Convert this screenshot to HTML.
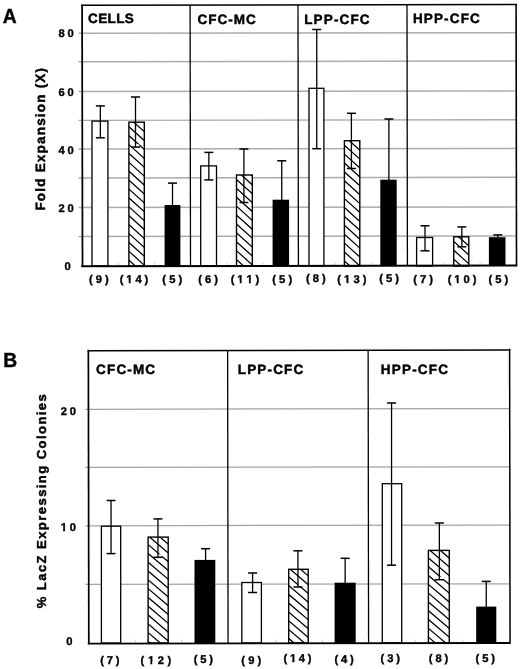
<!DOCTYPE html>
<html><head><meta charset="utf-8"><title>Figure</title>
<style>
html,body{margin:0;padding:0;background:#fff;}
body{width:520px;height:669px;overflow:hidden;font-family:"Liberation Sans",sans-serif;}
svg{display:block;will-change:transform;}
text{text-rendering:geometricPrecision;}
</style></head><body>
<svg width="520" height="669" viewBox="0 0 520 669">
<defs>
<pattern id="hA" patternUnits="userSpaceOnUse" width="7" height="7" x="128.6" y="124">
<rect width="7" height="7" fill="#fff"/>
<path d="M-1,-1 L8,8 M-1,6 L1,8 M6,-1 L8,1" stroke="#000" stroke-width="1.0" fill="none"/>
</pattern>
<pattern id="hB" patternUnits="userSpaceOnUse" width="7.5" height="7.5" x="148" y="538">
<rect width="7.5" height="7.5" fill="#fff"/>
<path d="M-1,-1 L8.5,8.5 M-1,6.5 L1,8.5 M6.5,-1 L8.5,1" stroke="#000" stroke-width="1.0" fill="none"/>
</pattern>
</defs>
<rect width="520" height="669" fill="#fff"/>
<line x1="78.50" y1="33.34" x2="516.30" y2="32.64" stroke="#ababab" stroke-width="1.45" />
<line x1="78.50" y1="61.69" x2="516.30" y2="60.99" stroke="#ababab" stroke-width="1.45" />
<line x1="78.50" y1="91.59" x2="516.30" y2="90.89" stroke="#ababab" stroke-width="1.45" />
<line x1="78.50" y1="120.39" x2="516.30" y2="119.69" stroke="#ababab" stroke-width="1.45" />
<line x1="78.50" y1="149.09" x2="516.30" y2="148.39" stroke="#ababab" stroke-width="1.45" />
<line x1="78.50" y1="177.99" x2="516.30" y2="177.29" stroke="#ababab" stroke-width="1.45" />
<line x1="78.50" y1="207.59" x2="516.30" y2="206.89" stroke="#ababab" stroke-width="1.45" />
<line x1="78.50" y1="236.59" x2="516.30" y2="235.89" stroke="#ababab" stroke-width="1.45" />
<line x1="118.19" y1="262.50" x2="118.19" y2="266.00" stroke="#c4c4c4" stroke-width="0.8" />
<line x1="154.38" y1="262.50" x2="154.38" y2="266.00" stroke="#c4c4c4" stroke-width="0.8" />
<line x1="226.77" y1="262.50" x2="226.77" y2="266.00" stroke="#c4c4c4" stroke-width="0.8" />
<line x1="262.96" y1="262.50" x2="262.96" y2="266.00" stroke="#c4c4c4" stroke-width="0.8" />
<line x1="335.34" y1="262.50" x2="335.34" y2="266.00" stroke="#c4c4c4" stroke-width="0.8" />
<line x1="371.53" y1="262.50" x2="371.53" y2="266.00" stroke="#c4c4c4" stroke-width="0.8" />
<line x1="443.92" y1="262.50" x2="443.92" y2="266.00" stroke="#c4c4c4" stroke-width="0.8" />
<line x1="480.11" y1="262.50" x2="480.11" y2="266.00" stroke="#c4c4c4" stroke-width="0.8" />
<rect x="92.00" y="121.10" width="15.90" height="144.90" fill="#fff" stroke="#000" stroke-width="1.3"/>
<line x1="100.35" y1="105.90" x2="100.35" y2="137.80" stroke="#000" stroke-width="1.3" />
<line x1="95.85" y1="105.90" x2="104.85" y2="105.90" stroke="#000" stroke-width="1.5" />
<line x1="95.85" y1="137.80" x2="104.85" y2="137.80" stroke="#000" stroke-width="1.5" />
<clipPath id="c1"><rect x="128.90" y="122.20" width="15.40" height="143.80"/></clipPath>
<rect x="128.90" y="122.20" width="15.40" height="143.80" fill="#fff"/>
<path d="M127.90,99.10L145.30,114.76M127.90,108.00L145.30,123.66M127.90,116.90L145.30,132.56M127.90,125.80L145.30,141.46M127.90,134.70L145.30,150.36M127.90,143.60L145.30,159.26M127.90,152.50L145.30,168.16M127.90,161.40L145.30,177.06M127.90,170.30L145.30,185.96M127.90,179.20L145.30,194.86M127.90,188.10L145.30,203.76M127.90,197.00L145.30,212.66M127.90,205.90L145.30,221.56M127.90,214.80L145.30,230.46M127.90,223.70L145.30,239.36M127.90,232.60L145.30,248.26M127.90,241.50L145.30,257.16M127.90,250.40L145.30,266.06M127.90,259.30L145.30,274.96" stroke="#000" stroke-width="1.25" fill="none" clip-path="url(#c1)"/>
<rect x="128.90" y="122.20" width="15.40" height="143.80" fill="none" stroke="#000" stroke-width="1.4"/>
<rect x="136.00" y="144.30" width="3.2" height="2.3" fill="#fff"/>
<line x1="135.50" y1="97.00" x2="135.50" y2="147.10" stroke="#000" stroke-width="1.3" />
<line x1="131.00" y1="97.00" x2="140.00" y2="97.00" stroke="#000" stroke-width="1.5" />
<line x1="131.00" y1="147.10" x2="140.00" y2="147.10" stroke="#000" stroke-width="1.5" />
<rect x="164.60" y="205.00" width="15.80" height="61.00" fill="#000"/>
<line x1="172.50" y1="183.10" x2="172.50" y2="205.30" stroke="#000" stroke-width="1.3" />
<line x1="168.00" y1="183.10" x2="177.00" y2="183.10" stroke="#000" stroke-width="1.5" />
<rect x="200.70" y="165.90" width="15.80" height="100.10" fill="#fff" stroke="#000" stroke-width="1.3"/>
<line x1="208.85" y1="152.40" x2="208.85" y2="179.90" stroke="#000" stroke-width="1.3" />
<line x1="204.35" y1="152.40" x2="213.35" y2="152.40" stroke="#000" stroke-width="1.5" />
<line x1="204.35" y1="179.90" x2="213.35" y2="179.90" stroke="#000" stroke-width="1.5" />
<clipPath id="c2"><rect x="236.50" y="175.00" width="15.80" height="91.00"/></clipPath>
<rect x="236.50" y="175.00" width="15.80" height="91.00" fill="#fff"/>
<path d="M235.50,151.90L253.30,167.92M235.50,160.80L253.30,176.82M235.50,169.70L253.30,185.72M235.50,178.60L253.30,194.62M235.50,187.50L253.30,203.52M235.50,196.40L253.30,212.42M235.50,205.30L253.30,221.32M235.50,214.20L253.30,230.22M235.50,223.10L253.30,239.12M235.50,232.00L253.30,248.02M235.50,240.90L253.30,256.92M235.50,249.80L253.30,265.82M235.50,258.70L253.30,274.72" stroke="#000" stroke-width="1.25" fill="none" clip-path="url(#c2)"/>
<rect x="236.50" y="175.00" width="15.80" height="91.00" fill="none" stroke="#000" stroke-width="1.4"/>
<rect x="244.40" y="199.70" width="3.2" height="2.3" fill="#fff"/>
<line x1="243.90" y1="149.00" x2="243.90" y2="202.50" stroke="#000" stroke-width="1.3" />
<line x1="239.40" y1="149.00" x2="248.40" y2="149.00" stroke="#000" stroke-width="1.5" />
<line x1="239.40" y1="202.50" x2="248.40" y2="202.50" stroke="#000" stroke-width="1.5" />
<rect x="272.60" y="199.70" width="16.50" height="66.30" fill="#000"/>
<line x1="281.75" y1="160.80" x2="281.75" y2="200.00" stroke="#000" stroke-width="1.3" />
<line x1="277.25" y1="160.80" x2="286.25" y2="160.80" stroke="#000" stroke-width="1.5" />
<rect x="309.00" y="88.30" width="14.90" height="177.70" fill="#fff" stroke="#000" stroke-width="1.3"/>
<line x1="316.75" y1="29.50" x2="316.75" y2="148.70" stroke="#000" stroke-width="1.3" />
<line x1="312.25" y1="29.50" x2="321.25" y2="29.50" stroke="#000" stroke-width="1.5" />
<line x1="312.25" y1="148.70" x2="321.25" y2="148.70" stroke="#000" stroke-width="1.5" />
<clipPath id="c3"><rect x="344.40" y="140.70" width="15.40" height="125.30"/></clipPath>
<rect x="344.40" y="140.70" width="15.40" height="125.30" fill="#fff"/>
<path d="M343.40,117.60L360.80,133.26M343.40,126.50L360.80,142.16M343.40,135.40L360.80,151.06M343.40,144.30L360.80,159.96M343.40,153.20L360.80,168.86M343.40,162.10L360.80,177.76M343.40,171.00L360.80,186.66M343.40,179.90L360.80,195.56M343.40,188.80L360.80,204.46M343.40,197.70L360.80,213.36M343.40,206.60L360.80,222.26M343.40,215.50L360.80,231.16M343.40,224.40L360.80,240.06M343.40,233.30L360.80,248.96M343.40,242.20L360.80,257.86M343.40,251.10L360.80,266.76M343.40,260.00L360.80,275.66" stroke="#000" stroke-width="1.25" fill="none" clip-path="url(#c3)"/>
<rect x="344.40" y="140.70" width="15.40" height="125.30" fill="none" stroke="#000" stroke-width="1.4"/>
<rect x="351.90" y="165.70" width="3.2" height="2.3" fill="#fff"/>
<line x1="351.40" y1="113.30" x2="351.40" y2="168.50" stroke="#000" stroke-width="1.3" />
<line x1="346.90" y1="113.30" x2="355.90" y2="113.30" stroke="#000" stroke-width="1.5" />
<line x1="346.90" y1="168.50" x2="355.90" y2="168.50" stroke="#000" stroke-width="1.5" />
<rect x="380.30" y="179.70" width="16.40" height="86.30" fill="#000"/>
<line x1="388.90" y1="119.00" x2="388.90" y2="180.00" stroke="#000" stroke-width="1.3" />
<line x1="384.40" y1="119.00" x2="393.40" y2="119.00" stroke="#000" stroke-width="1.5" />
<rect x="416.60" y="237.50" width="16.00" height="28.50" fill="#fff" stroke="#000" stroke-width="1.3"/>
<line x1="425.00" y1="225.80" x2="425.00" y2="250.80" stroke="#000" stroke-width="1.3" />
<line x1="420.50" y1="225.80" x2="429.50" y2="225.80" stroke="#000" stroke-width="1.5" />
<line x1="420.50" y1="250.80" x2="429.50" y2="250.80" stroke="#000" stroke-width="1.5" />
<clipPath id="c4"><rect x="453.70" y="236.80" width="15.10" height="29.20"/></clipPath>
<rect x="453.70" y="236.80" width="15.10" height="29.20" fill="#fff"/>
<path d="M452.70,213.70L469.80,229.09M452.70,222.60L469.80,237.99M452.70,231.50L469.80,246.89M452.70,240.40L469.80,255.79M452.70,249.30L469.80,264.69M452.70,258.20L469.80,273.59" stroke="#000" stroke-width="1.25" fill="none" clip-path="url(#c4)"/>
<rect x="453.70" y="236.80" width="15.10" height="29.20" fill="none" stroke="#000" stroke-width="1.4"/>
<rect x="462.35" y="244.00" width="3.2" height="2.3" fill="#fff"/>
<line x1="461.85" y1="226.90" x2="461.85" y2="246.80" stroke="#000" stroke-width="1.3" />
<line x1="457.35" y1="226.90" x2="466.35" y2="226.90" stroke="#000" stroke-width="1.5" />
<line x1="457.35" y1="246.80" x2="466.35" y2="246.80" stroke="#000" stroke-width="1.5" />
<rect x="488.90" y="237.20" width="16.60" height="28.80" fill="#000"/>
<line x1="497.80" y1="234.90" x2="497.80" y2="237.50" stroke="#000" stroke-width="1.3" />
<line x1="493.30" y1="234.90" x2="502.30" y2="234.90" stroke="#000" stroke-width="1.5" />
<line x1="190.09" y1="5.00" x2="190.51" y2="266.00" stroke="#000" stroke-width="1.3" />
<line x1="297.99" y1="5.00" x2="298.41" y2="266.00" stroke="#000" stroke-width="1.3" />
<line x1="406.99" y1="5.00" x2="407.41" y2="266.00" stroke="#000" stroke-width="1.3" />
<line x1="82.09" y1="4.70" x2="82.51" y2="267.00" stroke="#000" stroke-width="1.75" />
<line x1="516.09" y1="4.10" x2="516.51" y2="266.30" stroke="#000" stroke-width="1.6" />
<line x1="81.20" y1="5.25" x2="517.10" y2="4.55" stroke="#000" stroke-width="1.6" />
<line x1="81.20" y1="266.22" x2="517.10" y2="265.52" stroke="#000" stroke-width="2.0" />
<text x="88.00" y="23.10" font-size="13.5" font-family="Liberation Sans, sans-serif" font-weight="bold" letter-spacing="0.4" text-anchor="start" stroke="#000" stroke-width="0.45" >CELLS</text>
<text x="197.40" y="24.20" font-size="13.5" font-family="Liberation Sans, sans-serif" font-weight="bold" letter-spacing="1.0" text-anchor="start" stroke="#000" stroke-width="0.45" >CFC-MC</text>
<text x="304.20" y="24.20" font-size="13.5" font-family="Liberation Sans, sans-serif" font-weight="bold" letter-spacing="1.15" text-anchor="start" stroke="#000" stroke-width="0.45" >LPP-CFC</text>
<text x="412.90" y="23.10" font-size="13.5" font-family="Liberation Sans, sans-serif" font-weight="bold" letter-spacing="1.15" text-anchor="start" stroke="#000" stroke-width="0.45" >HPP-CFC</text>
<text x="58.54" y="37.30" font-size="11.2" font-family="Liberation Sans, sans-serif" font-weight="bold" letter-spacing="2.80" stroke="#000" stroke-width="0.35" style="font-kerning:none">80</text>
<text x="58.54" y="96.20" font-size="11.2" font-family="Liberation Sans, sans-serif" font-weight="bold" letter-spacing="2.80" stroke="#000" stroke-width="0.35" style="font-kerning:none">60</text>
<text x="58.54" y="154.10" font-size="11.2" font-family="Liberation Sans, sans-serif" font-weight="bold" letter-spacing="2.80" stroke="#000" stroke-width="0.35" style="font-kerning:none">40</text>
<text x="58.54" y="211.90" font-size="11.2" font-family="Liberation Sans, sans-serif" font-weight="bold" letter-spacing="2.80" stroke="#000" stroke-width="0.35" style="font-kerning:none">20</text>
<text x="64.57" y="269.90" font-size="11.2" font-family="Liberation Sans, sans-serif" font-weight="bold" letter-spacing="2.80" stroke="#000" stroke-width="0.35" style="font-kerning:none">0</text>
<text x="88.96" y="282.80" font-size="11.2" font-family="Liberation Sans, sans-serif" font-weight="bold" letter-spacing="3.10" stroke="#000" stroke-width="0.35" style="font-kerning:none">(9)</text>
<text x="119.69" y="282.80" font-size="11.2" font-family="Liberation Sans, sans-serif" font-weight="bold" letter-spacing="2.90" stroke="#000" stroke-width="0.35" style="font-kerning:none">(14)</text>
<rect x="126.13" y="280.81" width="2.61" height="3.24" fill="#fff"/>
<rect x="130.67" y="280.81" width="2.47" height="3.24" fill="#fff"/>
<text x="162.36" y="282.80" font-size="11.2" font-family="Liberation Sans, sans-serif" font-weight="bold" letter-spacing="3.10" stroke="#000" stroke-width="0.35" style="font-kerning:none">(5)</text>
<text x="198.26" y="282.80" font-size="11.2" font-family="Liberation Sans, sans-serif" font-weight="bold" letter-spacing="3.00" stroke="#000" stroke-width="0.35" style="font-kerning:none">(6)</text>
<text x="230.69" y="282.80" font-size="11.2" font-family="Liberation Sans, sans-serif" font-weight="bold" letter-spacing="2.90" stroke="#000" stroke-width="0.35" style="font-kerning:none">(11)</text>
<rect x="237.13" y="280.81" width="2.61" height="3.24" fill="#fff"/>
<rect x="241.67" y="280.81" width="2.47" height="3.24" fill="#fff"/>
<rect x="246.26" y="280.81" width="2.61" height="3.24" fill="#fff"/>
<rect x="250.80" y="280.81" width="2.47" height="3.24" fill="#fff"/>
<text x="272.26" y="282.80" font-size="11.2" font-family="Liberation Sans, sans-serif" font-weight="bold" letter-spacing="3.10" stroke="#000" stroke-width="0.35" style="font-kerning:none">(5)</text>
<text x="305.96" y="281.50" font-size="11.2" font-family="Liberation Sans, sans-serif" font-weight="bold" letter-spacing="3.10" stroke="#000" stroke-width="0.35" style="font-kerning:none">(8)</text>
<text x="337.29" y="283.30" font-size="11.2" font-family="Liberation Sans, sans-serif" font-weight="bold" letter-spacing="3.10" stroke="#000" stroke-width="0.35" style="font-kerning:none">(13)</text>
<rect x="343.93" y="281.31" width="2.61" height="3.24" fill="#fff"/>
<rect x="348.47" y="281.31" width="2.47" height="3.24" fill="#fff"/>
<text x="379.16" y="281.50" font-size="11.2" font-family="Liberation Sans, sans-serif" font-weight="bold" letter-spacing="3.10" stroke="#000" stroke-width="0.35" style="font-kerning:none">(5)</text>
<text x="413.36" y="282.80" font-size="11.2" font-family="Liberation Sans, sans-serif" font-weight="bold" letter-spacing="3.00" stroke="#000" stroke-width="0.35" style="font-kerning:none">(7)</text>
<text x="447.64" y="282.80" font-size="11.2" font-family="Liberation Sans, sans-serif" font-weight="bold" letter-spacing="3.00" stroke="#000" stroke-width="0.35" style="font-kerning:none">(10)</text>
<rect x="454.18" y="280.81" width="2.61" height="3.24" fill="#fff"/>
<rect x="458.72" y="280.81" width="2.47" height="3.24" fill="#fff"/>
<text x="488.56" y="282.80" font-size="11.2" font-family="Liberation Sans, sans-serif" font-weight="bold" letter-spacing="3.00" stroke="#000" stroke-width="0.35" style="font-kerning:none">(5)</text>
<text x="45.40" y="210.60" font-size="13.5" font-family="Liberation Sans, sans-serif" font-weight="bold" letter-spacing="1.2" text-anchor="start" transform="rotate(-90 45.40 210.60)" stroke="#000" stroke-width="0.45" >Fold Expansion (X)</text>
<text transform="translate(2.7,23.1) scale(0.95,1)" font-size="20.3" font-family="Liberation Sans, sans-serif" font-weight="bold" stroke="#000" stroke-width="0.4">A</text>
<line x1="85.20" y1="409.27" x2="509.70" y2="408.59" stroke="#a4a4a4" stroke-width="1.25" />
<line x1="85.20" y1="467.47" x2="509.70" y2="466.79" stroke="#a4a4a4" stroke-width="1.25" />
<line x1="85.20" y1="525.77" x2="509.70" y2="525.09" stroke="#a4a4a4" stroke-width="1.25" />
<line x1="85.20" y1="584.47" x2="509.70" y2="583.79" stroke="#a4a4a4" stroke-width="1.25" />
<line x1="135.20" y1="639.50" x2="135.20" y2="643.00" stroke="#c4c4c4" stroke-width="0.8" />
<line x1="181.60" y1="639.50" x2="181.60" y2="643.00" stroke="#c4c4c4" stroke-width="0.8" />
<line x1="276.20" y1="639.50" x2="276.20" y2="643.00" stroke="#c4c4c4" stroke-width="0.8" />
<line x1="322.50" y1="639.50" x2="322.50" y2="643.00" stroke="#c4c4c4" stroke-width="0.8" />
<line x1="415.30" y1="639.50" x2="415.30" y2="643.00" stroke="#c4c4c4" stroke-width="0.8" />
<line x1="462.70" y1="639.50" x2="462.70" y2="643.00" stroke="#c4c4c4" stroke-width="0.8" />
<rect x="101.40" y="526.20" width="19.30" height="116.80" fill="#fff" stroke="#000" stroke-width="1.3"/>
<line x1="111.05" y1="500.50" x2="111.05" y2="553.60" stroke="#000" stroke-width="1.3" />
<line x1="106.55" y1="500.50" x2="115.55" y2="500.50" stroke="#000" stroke-width="1.5" />
<line x1="106.55" y1="553.60" x2="115.55" y2="553.60" stroke="#000" stroke-width="1.5" />
<clipPath id="c5"><rect x="148.10" y="537.10" width="20.10" height="105.90"/></clipPath>
<rect x="148.10" y="537.10" width="20.10" height="105.90" fill="#fff"/>
<path d="M147.10,517.35L169.20,536.13M147.10,526.15L169.20,544.93M147.10,534.95L169.20,553.73M147.10,543.75L169.20,562.53M147.10,552.55L169.20,571.33M147.10,561.35L169.20,580.13M147.10,570.15L169.20,588.93M147.10,578.95L169.20,597.73M147.10,587.75L169.20,606.53M147.10,596.55L169.20,615.33M147.10,605.35L169.20,624.13M147.10,614.15L169.20,632.93M147.10,622.95L169.20,641.73M147.10,631.75L169.20,650.53M147.10,640.55L169.20,659.33" stroke="#000" stroke-width="1.25" fill="none" clip-path="url(#c5)"/>
<rect x="148.10" y="537.10" width="20.10" height="105.90" fill="none" stroke="#000" stroke-width="1.4"/>
<rect x="158.45" y="554.30" width="3.8" height="2.4" fill="#fff"/>
<line x1="157.95" y1="518.90" x2="157.95" y2="557.30" stroke="#000" stroke-width="1.3" />
<line x1="153.45" y1="518.90" x2="162.45" y2="518.90" stroke="#000" stroke-width="1.5" />
<line x1="153.45" y1="557.30" x2="162.45" y2="557.30" stroke="#000" stroke-width="1.5" />
<rect x="194.50" y="559.90" width="20.80" height="83.10" fill="#000"/>
<line x1="205.60" y1="548.70" x2="205.60" y2="560.20" stroke="#000" stroke-width="1.3" />
<line x1="201.10" y1="548.70" x2="210.10" y2="548.70" stroke="#000" stroke-width="1.5" />
<rect x="241.80" y="582.50" width="19.60" height="60.50" fill="#fff" stroke="#000" stroke-width="1.3"/>
<line x1="252.60" y1="573.00" x2="252.60" y2="592.50" stroke="#000" stroke-width="1.3" />
<line x1="248.10" y1="573.00" x2="257.10" y2="573.00" stroke="#000" stroke-width="1.5" />
<line x1="248.10" y1="592.50" x2="257.10" y2="592.50" stroke="#000" stroke-width="1.5" />
<clipPath id="c6"><rect x="288.70" y="569.30" width="19.50" height="73.70"/></clipPath>
<rect x="288.70" y="569.30" width="19.50" height="73.70" fill="#fff"/>
<path d="M287.70,549.55L309.20,567.82M287.70,558.35L309.20,576.62M287.70,567.15L309.20,585.42M287.70,575.95L309.20,594.22M287.70,584.75L309.20,603.02M287.70,593.55L309.20,611.82M287.70,602.35L309.20,620.62M287.70,611.15L309.20,629.42M287.70,619.95L309.20,638.22M287.70,628.75L309.20,647.02M287.70,637.55L309.20,655.82" stroke="#000" stroke-width="1.25" fill="none" clip-path="url(#c6)"/>
<rect x="288.70" y="569.30" width="19.50" height="73.70" fill="none" stroke="#000" stroke-width="1.4"/>
<rect x="298.45" y="584.00" width="3.8" height="2.4" fill="#fff"/>
<line x1="297.95" y1="550.80" x2="297.95" y2="587.00" stroke="#000" stroke-width="1.3" />
<line x1="293.45" y1="550.80" x2="302.45" y2="550.80" stroke="#000" stroke-width="1.5" />
<line x1="293.45" y1="587.00" x2="302.45" y2="587.00" stroke="#000" stroke-width="1.5" />
<rect x="334.60" y="582.70" width="21.10" height="60.30" fill="#000"/>
<line x1="345.15" y1="558.30" x2="345.15" y2="583.00" stroke="#000" stroke-width="1.3" />
<line x1="340.65" y1="558.30" x2="349.65" y2="558.30" stroke="#000" stroke-width="1.5" />
<rect x="382.30" y="483.70" width="19.40" height="159.30" fill="#fff" stroke="#000" stroke-width="1.3"/>
<line x1="391.55" y1="403.00" x2="391.55" y2="565.20" stroke="#000" stroke-width="1.3" />
<line x1="387.05" y1="403.00" x2="396.05" y2="403.00" stroke="#000" stroke-width="1.5" />
<line x1="387.05" y1="565.20" x2="396.05" y2="565.20" stroke="#000" stroke-width="1.5" />
<clipPath id="c7"><rect x="428.40" y="550.40" width="20.90" height="92.60"/></clipPath>
<rect x="428.40" y="550.40" width="20.90" height="92.60" fill="#fff"/>
<path d="M427.40,530.65L450.30,550.12M427.40,539.45L450.30,558.91M427.40,548.25L450.30,567.71M427.40,557.05L450.30,576.51M427.40,565.85L450.30,585.31M427.40,574.65L450.30,594.11M427.40,583.45L450.30,602.91M427.40,592.25L450.30,611.71M427.40,601.05L450.30,620.51M427.40,609.85L450.30,629.31M427.40,618.65L450.30,638.11M427.40,627.45L450.30,646.91M427.40,636.25L450.30,655.71" stroke="#000" stroke-width="1.25" fill="none" clip-path="url(#c7)"/>
<rect x="428.40" y="550.40" width="20.90" height="92.60" fill="none" stroke="#000" stroke-width="1.4"/>
<rect x="439.85" y="576.70" width="3.8" height="2.4" fill="#fff"/>
<line x1="439.35" y1="523.00" x2="439.35" y2="579.70" stroke="#000" stroke-width="1.3" />
<line x1="434.85" y1="523.00" x2="443.85" y2="523.00" stroke="#000" stroke-width="1.5" />
<line x1="434.85" y1="579.70" x2="443.85" y2="579.70" stroke="#000" stroke-width="1.5" />
<rect x="476.20" y="606.60" width="20.10" height="36.40" fill="#000"/>
<line x1="486.25" y1="581.40" x2="486.25" y2="606.90" stroke="#000" stroke-width="1.3" />
<line x1="481.75" y1="581.40" x2="490.75" y2="581.40" stroke="#000" stroke-width="1.5" />
<line x1="227.62" y1="350.00" x2="228.08" y2="643.00" stroke="#000" stroke-width="1.3" />
<line x1="368.12" y1="350.00" x2="368.58" y2="643.00" stroke="#000" stroke-width="1.3" />
<line x1="88.35" y1="349.80" x2="88.82" y2="644.20" stroke="#000" stroke-width="1.7" />
<line x1="509.60" y1="348.80" x2="510.07" y2="643.40" stroke="#000" stroke-width="1.5" />
<line x1="87.80" y1="350.70" x2="510.40" y2="350.02" stroke="#000" stroke-width="1.4" />
<line x1="87.80" y1="643.62" x2="510.40" y2="642.94" stroke="#000" stroke-width="1.9" />
<text x="96.10" y="374.10" font-size="13.5" font-family="Liberation Sans, sans-serif" font-weight="bold" letter-spacing="1.15" text-anchor="start" stroke="#000" stroke-width="0.45" >CFC-MC</text>
<text x="237.80" y="373.80" font-size="13.5" font-family="Liberation Sans, sans-serif" font-weight="bold" letter-spacing="1.15" text-anchor="start" stroke="#000" stroke-width="0.45" >LPP-CFC</text>
<text x="380.80" y="374.40" font-size="13.5" font-family="Liberation Sans, sans-serif" font-weight="bold" letter-spacing="1.2" text-anchor="start" stroke="#000" stroke-width="0.45" >HPP-CFC</text>
<text x="60.64" y="414.50" font-size="11.2" font-family="Liberation Sans, sans-serif" font-weight="bold" letter-spacing="2.80" stroke="#000" stroke-width="0.35" style="font-kerning:none">20</text>
<text x="60.64" y="530.90" font-size="11.2" font-family="Liberation Sans, sans-serif" font-weight="bold" letter-spacing="2.80" stroke="#000" stroke-width="0.35" style="font-kerning:none">10</text>
<rect x="60.45" y="528.91" width="2.61" height="3.24" fill="#fff"/>
<rect x="64.99" y="528.91" width="2.47" height="3.24" fill="#fff"/>
<text x="66.17" y="644.90" font-size="11.2" font-family="Liberation Sans, sans-serif" font-weight="bold" letter-spacing="2.80" stroke="#000" stroke-width="0.35" style="font-kerning:none">0</text>
<text x="100.21" y="663.85" font-size="11.2" font-family="Liberation Sans, sans-serif" font-weight="bold" letter-spacing="2.85" stroke="#000" stroke-width="0.35" style="font-kerning:none">(7)</text>
<text x="140.62" y="663.85" font-size="11.2" font-family="Liberation Sans, sans-serif" font-weight="bold" letter-spacing="3.55" stroke="#000" stroke-width="0.35" style="font-kerning:none">(12)</text>
<rect x="147.70" y="661.86" width="2.61" height="3.24" fill="#fff"/>
<rect x="152.25" y="661.86" width="2.47" height="3.24" fill="#fff"/>
<text x="193.81" y="662.65" font-size="11.2" font-family="Liberation Sans, sans-serif" font-weight="bold" letter-spacing="2.75" stroke="#000" stroke-width="0.35" style="font-kerning:none">(5)</text>
<text x="241.36" y="663.65" font-size="11.2" font-family="Liberation Sans, sans-serif" font-weight="bold" letter-spacing="3.05" stroke="#000" stroke-width="0.35" style="font-kerning:none">(9)</text>
<text x="283.57" y="662.45" font-size="11.2" font-family="Liberation Sans, sans-serif" font-weight="bold" letter-spacing="2.65" stroke="#000" stroke-width="0.35" style="font-kerning:none">(14)</text>
<rect x="289.75" y="660.46" width="2.61" height="3.24" fill="#fff"/>
<rect x="294.30" y="660.46" width="2.47" height="3.24" fill="#fff"/>
<text x="334.41" y="662.65" font-size="11.2" font-family="Liberation Sans, sans-serif" font-weight="bold" letter-spacing="2.85" stroke="#000" stroke-width="0.35" style="font-kerning:none">(4)</text>
<text x="380.46" y="662.45" font-size="11.2" font-family="Liberation Sans, sans-serif" font-weight="bold" letter-spacing="2.95" stroke="#000" stroke-width="0.35" style="font-kerning:none">(3)</text>
<text x="428.71" y="662.45" font-size="11.2" font-family="Liberation Sans, sans-serif" font-weight="bold" letter-spacing="2.95" stroke="#000" stroke-width="0.35" style="font-kerning:none">(8)</text>
<text x="475.46" y="662.45" font-size="11.2" font-family="Liberation Sans, sans-serif" font-weight="bold" letter-spacing="2.95" stroke="#000" stroke-width="0.35" style="font-kerning:none">(5)</text>
<text x="46.30" y="608.20" font-size="13" font-family="Liberation Sans, sans-serif" font-weight="bold" letter-spacing="1.45" text-anchor="start" transform="rotate(-90 46.30 608.20)" stroke="#000" stroke-width="0.45" >% LacZ Expressing Colonies</text>
<text transform="translate(3.2,367.2) scale(0.95,1)" font-size="20.3" font-family="Liberation Sans, sans-serif" font-weight="bold" stroke="#000" stroke-width="0.4">B</text>
</svg>
</body></html>
